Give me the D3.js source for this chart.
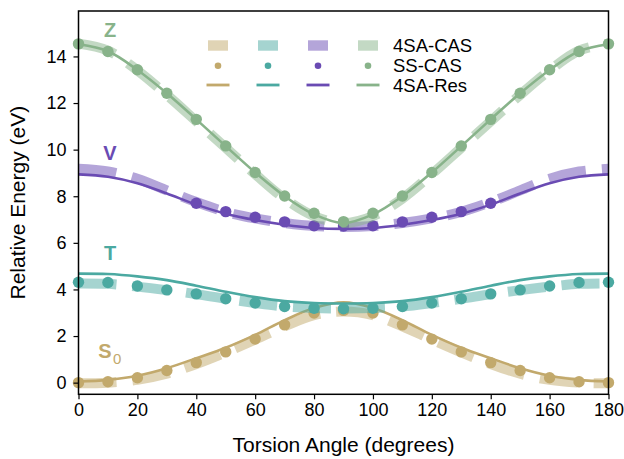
<!DOCTYPE html>
<html><head><meta charset="utf-8">
<script src="https://cdn.jsdelivr.net/npm/d3@7"></script>
<style>body{margin:0;background:#fff;} svg{display:block;font-family:"Liberation Sans",Arial,sans-serif;}</style>
</head><body>
<svg id="c" width="624" height="459"></svg>
<script>
const angles = [0,10,20,30,40,50,60,70,80,90,100,110,120,130,140,150,160,170,180];
const vAngles = [40,50,60,70,80,90,100,110,120,130,140];
const xTicks = [0,20,40,60,80,100,120,140,160,180];
const yTicks = [0,2,4,6,8,10,12,14];

// S0
const s0CAS = [-0.03,0.0,0.12,0.38,0.8,1.3,1.85,2.42,2.9,3.05,2.9,2.42,1.85,1.3,0.8,0.38,0.12,0.0,-0.03];
const s0SS  = [0.0,0.04,0.21,0.52,0.86,1.32,1.87,2.48,2.99,3.1,2.99,2.48,1.87,1.32,0.86,0.52,0.21,0.04,0.0];
const s0Res = [0.05,0.12,0.3,0.62,1.05,1.5,2.05,2.68,3.2,3.45,3.2,2.68,2.05,1.5,1.05,0.62,0.3,0.12,0.05];
// T
const tCAS = [4.26,4.24,4.12,3.97,3.8,3.6,3.42,3.27,3.2,3.18,3.2,3.27,3.42,3.6,3.8,3.97,4.12,4.24,4.26];
const tSS  = [4.31,4.3,4.15,3.98,3.81,3.6,3.42,3.27,3.19,3.17,3.19,3.27,3.42,3.6,3.81,3.98,4.15,4.3,4.31];
const tRes = [4.68,4.66,4.56,4.4,4.16,3.9,3.67,3.5,3.42,3.4,3.42,3.5,3.67,3.9,4.16,4.4,4.56,4.66,4.68];
// V
const vCAS = [9.18,9.06,8.75,8.25,7.75,7.33,7.05,6.85,6.72,6.68,6.72,6.85,7.05,7.33,7.75,8.25,8.75,9.06,9.18];
const vSS  = [7.7,7.34,7.1,6.9,6.73,6.72,6.73,6.9,7.1,7.34,7.7];
const vRes = [8.94,8.84,8.56,8.12,7.64,7.25,6.98,6.78,6.64,6.6,6.64,6.78,6.98,7.25,7.64,8.12,8.56,8.84,8.94];
// Z
const zCAS = [14.55,14.25,13.4,12.35,11.22,10.08,8.95,7.9,7.15,6.85,7.15,7.9,8.95,10.08,11.22,12.35,13.4,14.25,14.55];
const zSS  = [14.54,14.21,13.43,12.42,11.3,10.16,9.02,8.01,7.27,6.91,7.27,8.01,9.02,10.16,11.3,12.42,13.43,14.21,14.54];
const zRes = [14.52,14.22,13.42,12.42,11.3,10.15,9.02,8.0,7.22,6.85,7.22,8.0,9.02,10.15,11.3,12.42,13.42,14.22,14.52];

const stateNames = ["S","T","V","Z"];
const colors = ["#C2A96C","#4BA9A1","#6A4BB3","#88B38A"];
const legendLabels = ["4SA-CAS","SS-CAS","4SA-Res"];

const states = [
  {cas:s0CAS, ss:s0SS, ssX:angles, res:s0Res},
  {cas:tCAS, ss:tSS, ssX:angles, res:tRes},
  {cas:vCAS, ss:vSS, ssX:vAngles, res:vRes},
  {cas:zCAS, ss:zSS, ssX:angles, res:zRes}
];

const svg = d3.select("#c");
const L = 78.5, R = 608.5, T = 11, B = 394.3;
const x = d3.scaleLinear().domain([0,180]).range([L,R]);
const y = d3.scaleLinear().domain([-0.5,15.95]).range([B,T]);

const line = d3.line().x(d=>x(d[0])).y(d=>y(d[1])).curve(d3.curveCatmullRom.alpha(0.5));

const plot = svg.append("g");
states.forEach((s,i)=>{
  const c = colors[i];
  plot.append("path").datum(angles.map((a,k)=>[a,s.cas[k]]))
    .attr("d",line).attr("fill","none").attr("stroke",c).attr("stroke-opacity",0.5)
    .attr("stroke-width",10).attr("stroke-dasharray","38,16");
  plot.append("path").datum(angles.map((a,k)=>[a,s.res[k]]))
    .attr("d",line).attr("fill","none").attr("stroke",c).attr("stroke-width",2.6);
  plot.selectAll(null).data(s.ssX.map((a,k)=>[a,s.ss[k]])).enter().append("circle")
    .attr("cx",d=>x(d[0])).attr("cy",d=>y(d[1])).attr("r",5.7).attr("fill",c);
});

// axes
const xa = svg.append("g").attr("transform",`translate(0,${B})`)
  .call(d3.axisBottom(x).tickValues(xTicks).tickSize(5).tickPadding(4).tickFormat(d3.format("d")));
const ya = svg.append("g").attr("transform",`translate(${L},0)`)
  .call(d3.axisLeft(y).tickValues(yTicks).tickSize(5).tickPadding(7).tickFormat(d3.format("d")));
[xa,ya].forEach(a=>{
  a.select(".domain").remove();
  a.selectAll("line").attr("stroke","#000").attr("stroke-width",1.2);
  a.selectAll("text").attr("font-size",18).attr("fill","#000").attr("font-family","Liberation Sans, Arial, sans-serif");
});
svg.append("rect").attr("x",L).attr("y",T).attr("width",R-L).attr("height",B-T)
  .attr("fill","none").attr("stroke","#000").attr("stroke-width",1.5);

svg.append("text").attr("x",(L+R)/2).attr("y",452).attr("text-anchor","middle")
  .attr("font-size",21).text("Torsion Angle (degrees)");
svg.append("text").attr("transform",`translate(25,${(T+B)/2}) rotate(-90)`).attr("text-anchor","middle")
  .attr("font-size",21).text("Relative Energy (eV)");

// state labels
const lab = [[105,358],[110,260],[110,160],[110,37]];
stateNames.forEach((n,i)=>{
  svg.append("text").attr("x",lab[i][0]).attr("y",lab[i][1]).attr("text-anchor","middle")
    .attr("font-size",20).attr("font-weight","bold").attr("fill",colors[i]).text(n);
  if(n==="S"){
    svg.append("text").attr("x",113).attr("y",364).attr("font-size",15).attr("fill",colors[i]).text("0");
  }
});

// legend
const lg = svg.append("g");
const colX = [218,268,318,368];
const rowY = [45.5,65.7,85];
colors.forEach((c,i)=>{
  lg.append("rect").attr("x",colX[i]-10).attr("y",rowY[0]-5.2).attr("width",20).attr("height",10.4)
    .attr("fill",c).attr("fill-opacity",0.5);
  lg.append("circle").attr("cx",colX[i]).attr("cy",rowY[1]).attr("r",3.3).attr("fill",c);
  lg.append("line").attr("x1",colX[i]-11.5).attr("x2",colX[i]+11.5).attr("y1",rowY[2]).attr("y2",rowY[2])
    .attr("stroke",c).attr("stroke-width",2.8);
});
legendLabels.forEach((t,i)=>{
  lg.append("text").attr("x",393).attr("y",rowY[i]+6.5).attr("font-size",18.5).text(t);
});
</script>
</body></html>
